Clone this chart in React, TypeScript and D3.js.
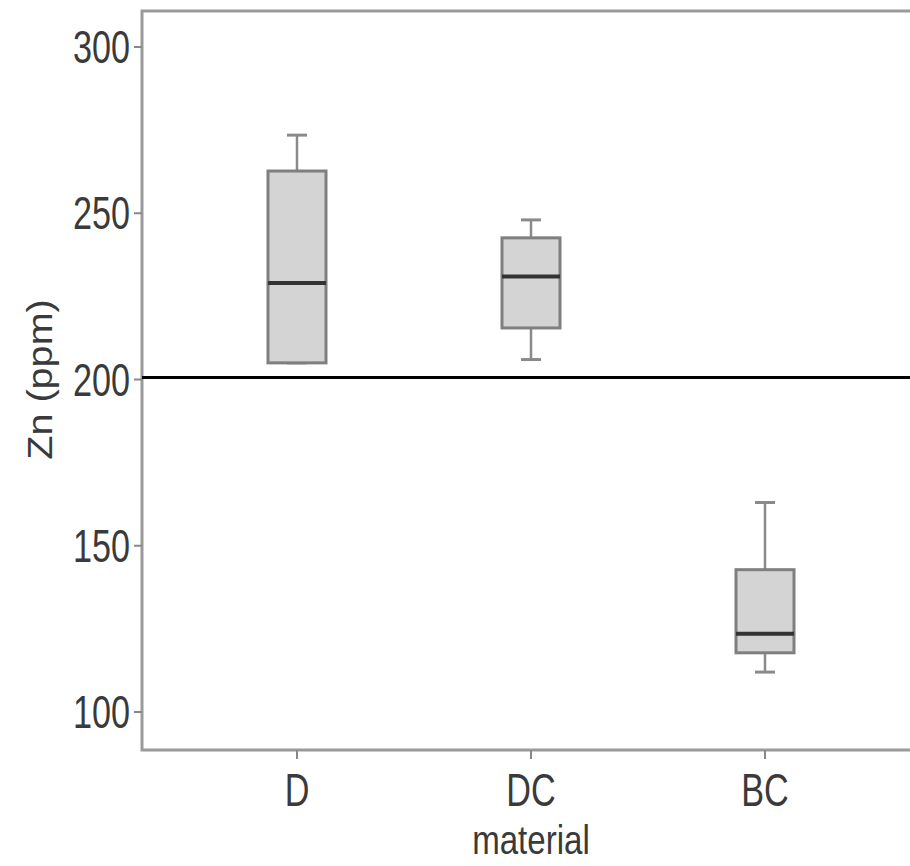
import React from "react";
import * as d3 from "d3";

const categories = ["D", "DC", "BC"];
const whiskerLow = [205, 206, 112];
const q1 = [205, 215.5, 117.8];
const median = [229, 231, 123.5];
const q3 = [262.7, 242.6, 142.8];
const whiskerHigh = [273.5, 248, 163];
const yTicks = [100, 150, 200, 250, 300];
const refValue = 200;
const xTitle = "material";
const yTitle = "Zn (ppm)";

const W = 910;
const H = 866;
const left = 142;
const top = 11;
const bottom = 750;
const right = 1000;

export default function App() {
  const y = d3.scaleLinear().domain([100, 300]).range([712, 47]);
  const x = d3.scalePoint<string>().domain(categories).range([297, 765]);
  const boxW = 58;
  const capW = 20;
  const font = "'Liberation Sans', Arial, sans-serif";
  return (
    <svg width={W} height={H} style={{ position: "absolute", left: 0, top: 0, background: "#fff" }}>
      <rect x={0} y={0} width={W} height={H} fill="#fff" />
      {/* frame */}
      <rect x={left} y={top} width={right - left} height={bottom - top} fill="none" stroke="#9a9a9a" strokeWidth={3} />
      {/* y ticks */}
      {yTicks.map((t) => (
        <g key={t}>
          <line x1={left - 8} x2={left} y1={y(t)} y2={y(t)} stroke="#888" strokeWidth={2} />
          <text
            x={0}
            y={0}
            transform={`translate(${left - 12},${y(t) + 16}) scale(0.9,1.2)`}
            textAnchor="end"
            fontFamily={font}
            fontSize={38}
            fill="#3a3a3a"
          >
            {t}
          </text>
        </g>
      ))}
      {/* x ticks */}
      {categories.map((c) => (
        <g key={c}>
          <line x1={x(c)} x2={x(c)} y1={bottom} y2={bottom + 9} stroke="#888" strokeWidth={2} />
          <text
            x={0}
            y={0}
            transform={`translate(${x(c)},${bottom + 56}) scale(0.9,1.2)`}
            textAnchor="middle"
            fontFamily={font}
            fontSize={38}
            fill="#3a3a3a"
          >
            {c}
          </text>
        </g>
      ))}
      <text
        transform={`translate(${(left + 920) / 2},${bottom + 104}) scale(0.92,1.12)`}
        textAnchor="middle"
        fontFamily={font}
        fontSize={36}
        fill="#3a3a3a"
      >
        {xTitle}
      </text>
      <text
        transform={`translate(52,${y(200)}) rotate(-90) scale(1.1,0.95)`}
        textAnchor="middle"
        fontFamily={font}
        fontSize={36}
        fill="#3a3a3a"
      >
        {yTitle}
      </text>
      {/* boxes */}
      {categories.map((c, i) => {
        const cx = x(c)!;
        return (
          <g key={c}>
            <line x1={cx} x2={cx} y1={y(q3[i])} y2={y(whiskerHigh[i])} stroke="#8a8a8a" strokeWidth={2.5} />
            <line x1={cx} x2={cx} y1={y(q1[i])} y2={y(whiskerLow[i])} stroke="#8a8a8a" strokeWidth={2.5} />
            <line x1={cx - capW / 2} x2={cx + capW / 2} y1={y(whiskerHigh[i])} y2={y(whiskerHigh[i])} stroke="#8a8a8a" strokeWidth={3} />
            <line x1={cx - capW / 2} x2={cx + capW / 2} y1={y(whiskerLow[i])} y2={y(whiskerLow[i])} stroke="#8a8a8a" strokeWidth={3} />
            <rect
              x={cx - boxW / 2}
              y={y(q3[i])}
              width={boxW}
              height={y(q1[i]) - y(q3[i])}
              fill="#d4d4d4"
              stroke="#7f7f7f"
              strokeWidth={3}
            />
            <line x1={cx - boxW / 2} x2={cx + boxW / 2} y1={y(median[i])} y2={y(median[i])} stroke="#333" strokeWidth={4} />
          </g>
        );
      })}
      {/* reference line */}
      <line x1={left} x2={W} y1={y(refValue) - 2} y2={y(refValue) - 2} stroke="#000" strokeWidth={3} />
    </svg>
  );
}
